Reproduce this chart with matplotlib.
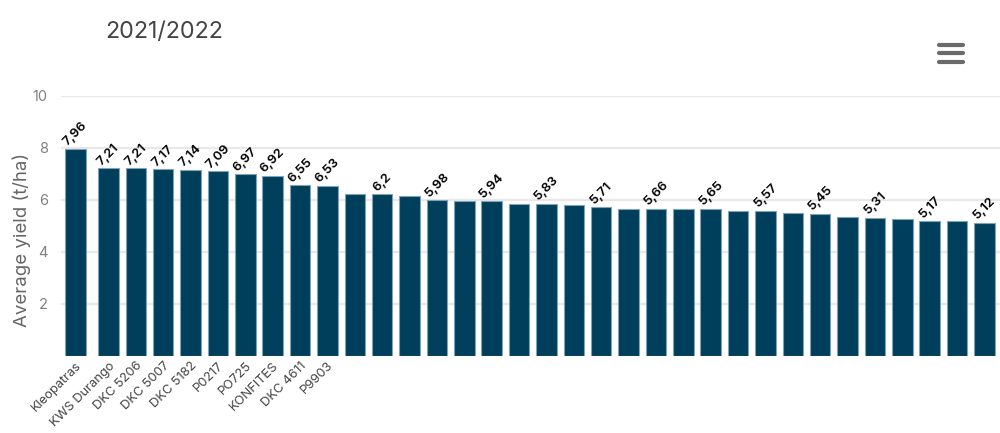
import numpy as np
from matplotlib import pyplot as plt
from matplotlib.lines import Line2D

plt.rcParams['font.family'] = ['Inter', 'DejaVu Sans']

title = '2021/2022'
y_title = 'Average yield (t/ha)'
names = ['Kleopatras', 'KWS Durango', 'DKC 5206', 'DKC 5007', 'DKC 5182',
         'P0217', 'PO725', 'KONFITES', 'DKC 4611', 'P9903']
yields = [7.96, 7.21, 7.21, 7.17, 7.14, 7.09, 6.97, 6.92, 6.55, 6.53,
          6.22, 6.2, 6.13, 5.98, 5.94, 5.94, 5.83, 5.83, 5.78, 5.71,
          5.66, 5.66, 5.65, 5.65, 5.58, 5.57, 5.47, 5.45, 5.33, 5.31,
          5.24, 5.17, 5.16, 5.12]
labelled = [0, 1, 2, 3, 4, 5, 6, 7, 8, 9, 11, 13, 15, 17, 19, 21, 23, 25, 27, 29, 31, 33]
y_ticks = [2, 4, 6, 8, 10]


def main():
    fig = plt.figure(figsize=(10, 4.33), dpi=100)
    ax = fig.add_axes([0.061, 1 - 355.5 / 433, 0.939, (355.5 - 95.8) / 433])

    x = np.arange(len(yields), dtype=float)
    x[0] -= 0.2  # first bar sits a bit apart from the others
    ax.bar(x, yields, width=0.75, color='#003f5c', edgecolor='#7fa3b6',
           linewidth=0.8, zorder=3)

    for i in labelled:
        text = f'{yields[i]:g}'.replace('.', ',')
        ax.annotate(text, (x[i], yields[i]), xytext=(0, 0.5), textcoords='offset points',
                    ha='center', va='bottom', rotation=45, fontsize=9.4,
                    fontweight='semibold', color='black', zorder=4)

    ax.set_xlim(-0.735, 33.57)
    ax.set_ylim(0, 10)
    ax.set_yticks(y_ticks)
    ax.set_xticks(x[:len(names)])
    ax.set_xticklabels(names, rotation=45, ha='right', rotation_mode='anchor',
                       fontsize=9.3, color='#444444')
    ax.tick_params(axis='x', length=0, pad=3)
    ax.tick_params(axis='y', length=0, pad=9.5, labelsize=10.5, labelcolor='#808080')
    ax.grid(axis='y', color='#e8e8e8', linewidth=1.6, zorder=0)
    for side in ax.spines:
        ax.spines[side].set_visible(False)
    ax.set_axisbelow(True)

    fig.text(22 / 1000, 1 - 240 / 433, y_title, rotation=90, ha='center', va='center',
             fontsize=13.4, color='#666666')
    fig.text(105 / 1000, 1 - 32 / 433, title, ha='left', va='center',
             fontsize=16.8, color='#444444')

    # menu icon
    for py in (45, 53, 61.5):
        fig.add_artist(Line2D([939 / 1000, 963 / 1000], [1 - py / 433, 1 - py / 433],
                              color='#6a6a6a', linewidth=3, solid_capstyle='round'))

    fig.savefig('out.png', dpi=100)


if __name__ == '__main__':
    main()
